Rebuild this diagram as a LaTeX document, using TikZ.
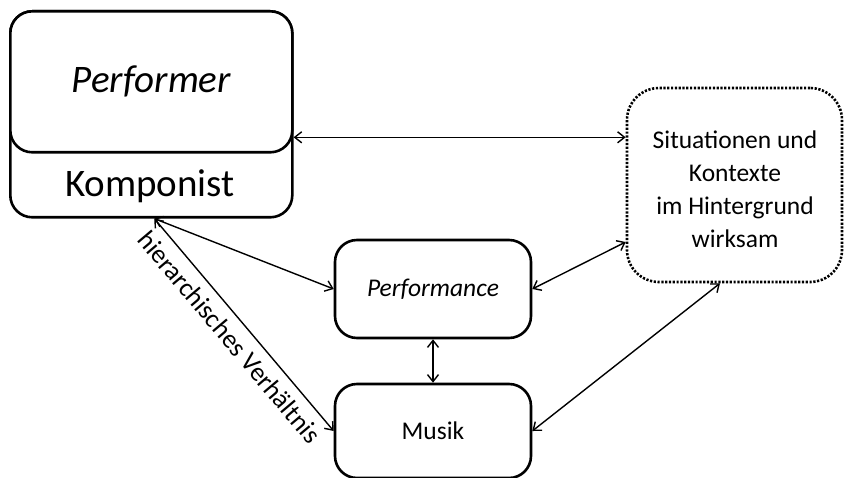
\documentclass[tikz,border=0pt]{standalone}
\usepackage{fontspec}
\setmainfont{Carlito}
\usetikzlibrary{arrows.meta}
\begin{document}
\begin{tikzpicture}[x=1pt,y=-1pt,
  box/.style={draw, line width=2.6pt, rounded corners=22pt, fill=white,
    inner sep=0pt, align=center},
  ctxbox/.style={draw, line width=2.6pt, rounded corners=32pt, fill=white,
    dash pattern=on 2.2pt off 1.6pt, inner sep=0pt, align=center},
  tip/.tip={Straight Barb[length=7pt,width=11pt]},
  arr/.style={tip-tip, line width=1.4pt},
  big/.style={font=\fontsize{39}{45}\selectfont},
  mid/.style={font=\fontsize{25.5}{33}\selectfont},
  lbl/.style={font=\fontsize{26.5}{30}\selectfont},
]
\useasboundingbox (0,0) rectangle (846,478);

% composer frame with the performer box laid on top of it
\node[box, minimum width=282pt, minimum height=206pt, anchor=north west] (komp) at (9,10) {};
\node[big] (kompt) at (150,186) {Komponist};
\node[box, big, minimum width=282pt, minimum height=141pt, anchor=north west] (perf) at (9,10) {\itshape Performer};

% middle column
\node[box, mid, minimum width=196pt, minimum height=98pt] (pf) at (433,289) {\itshape Performance};
\node[box, mid, minimum width=196pt, minimum height=94pt] (mu) at (433,431) {Musik};

% background situations
\node[ctxbox, minimum width=215pt, minimum height=194pt] (sit) at (734.5,185) {};
\node[mid, align=center] (sitt) at (735,189) {Situationen und\\Kontexte\\im Hintergrund\\wirksam};

% connectors
\coordinate (kc) at ([xshift=3pt]komp.south);
\draw[arr] ([yshift=-55.5pt]perf.east) -- ([yshift=-55.5pt]perf.east -| sit.west);
\draw[arr] (kc) -- (pf.west);
\draw[arr] (kc) -- node[sloped, below=9pt, inner sep=0pt, lbl] {hierarchisches Verhältnis} (mu.west);
\draw[arr] (pf.south) -- (mu.north);
\draw[arr] ([yshift=-57pt]sit.west) -- (pf.east);
\draw[arr] ([xshift=-14.5pt]sit.south) -- (mu.east);
\end{tikzpicture}
\end{document}
